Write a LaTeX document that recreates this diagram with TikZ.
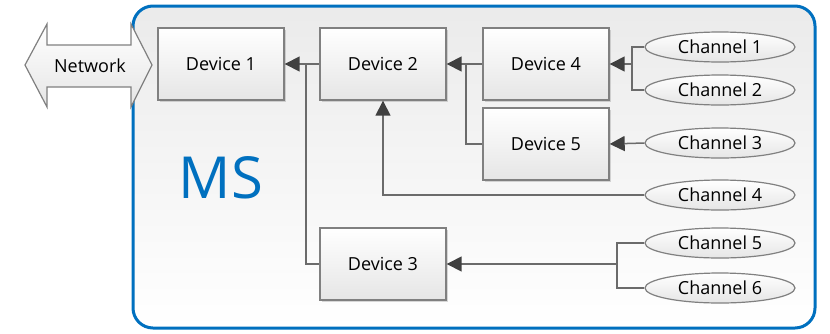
\documentclass[tikz,border=0pt]{standalone}
\usepackage{fontspec}
\setmainfont{Open Sans}
\usetikzlibrary{arrows.meta,shadows,shapes.geometric}
\definecolor{msblue}{rgb}{0.0, 0.44, 0.75}
\definecolor{wire}{rgb}{0.42, 0.42, 0.42}
\definecolor{tip}{rgb}{0.25, 0.25, 0.25}
\definecolor{edge}{rgb}{0.50, 0.50, 0.50}

\tikzset{
  device/.style={rectangle, draw=edge, line width=1.4pt, top color=white, bottom color=black!10,
    minimum width=126pt, minimum height=72pt, inner sep=0pt,
    font=\fontsize{18}{20}\selectfont,
    drop shadow={opacity=0.3, shadow xshift=1.5pt, shadow yshift=-1.5pt}},
  channel/.style={ellipse, draw=edge, line width=1.2pt, top color=white, bottom color=black!10,
    minimum width=150pt, minimum height=30pt, inner sep=0pt,
    font=\fontsize{18}{20}\selectfont},
  wire/.style={draw=wire, line width=1.5pt},
  feed/.style={wire, -{Triangle[length=15pt, width=15pt, color=tip]}}
}

\begin{document}
\begin{tikzpicture}[x=1pt, y={(0pt,-1pt)}]
        \useasboundingbox (0,0) rectangle (830,333);
        % the MS enclosure
        \draw[msblue, line width=3pt, rounded corners=20pt, top color=black!8, bottom color=white]
            (133,6) rectangle (815,328);
        \node[msblue, font=\fontsize{58}{60}\selectfont] (ms) at (221,178) {MS};
        % network link
        \draw[edge, line width=1.2pt, top color=white, bottom color=black!10]
            (25,65) -- (47,24) -- (47,45) -- (131,45) -- (131,24) -- (152,65)
            -- (131,107) -- (131,87) -- (47,87) -- (47,107) -- cycle;
        \node[font=\fontsize{18}{20}\selectfont] (net) at (90,66) {Network};
        % devices
        \node[device] (dev1) at (221,64)  {Device 1};
        \node[device] (dev2) at (383,64)  {Device 2};
        \node[device] (dev4) at (546,64)  {Device 4};
        \node[device] (dev5) at (546,144) {Device 5};
        \node[device] (dev3) at (383,264) {Device 3};
        % channels
        \node[channel] (ch1) at (720,47)  {Channel 1};
        \node[channel] (ch2) at (720,90)  {Channel 2};
        \node[channel] (ch3) at (720,143) {Channel 3};
        \node[channel] (ch4) at (720,195) {Channel 4};
        \node[channel] (ch5) at (720,243) {Channel 5};
        \node[channel] (ch6) at (720,288) {Channel 6};
        % junctions
        \coordinate (j1) at (632,64);
        \coordinate (j2) at (466,64);
        \coordinate (j3) at (306,64);
        \coordinate (j4) at (617,264);
        % wiring
        \draw[wire] (ch1.west) -| (j1) |- (ch2.west);
        \draw[feed] (j1) -- (dev4.east);
        \draw[feed] (ch3.west) -- (dev5.east);
        \draw[feed] (ch4.west) -| (dev2.south);
        \draw[wire] (ch5.west) -| (j4) |- (ch6.west);
        \draw[feed] (j4) -- (dev3.east);
        \draw[wire] (dev5.west) -| (j2);
        \draw[feed] (dev4.west) -- (dev2.east);
        \draw[wire] (dev3.west) -| (j3);
        \draw[feed] (dev2.west) -- (dev1.east);
    \end{tikzpicture}
\end{document}
